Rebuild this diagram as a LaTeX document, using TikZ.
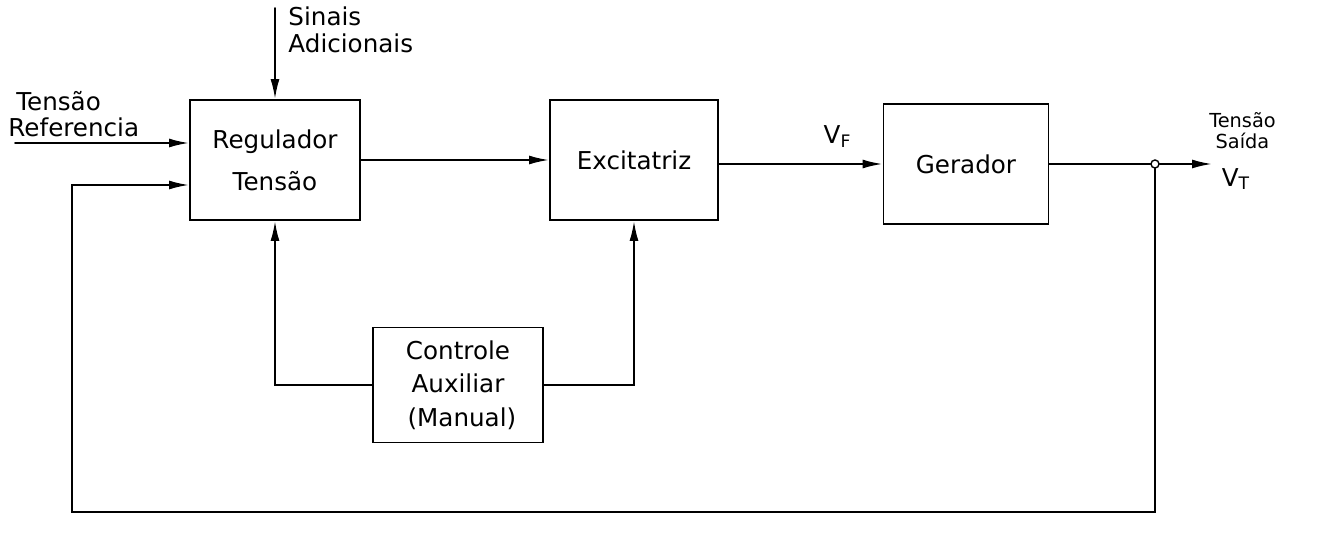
\documentclass[tikz,border=0pt]{standalone}
\usepackage{fontspec}
\setmainfont{DejaVu Sans}
\usetikzlibrary{arrows.meta}

\begin{document}
\begin{tikzpicture}[>={Latex[length=4mm,width=1.8mm]},line width=1.1pt,line cap=round,
  font=\fontsize{14}{19}\selectfont,
  blk/.style={draw,minimum width=3.4cm,minimum height=2.4cm,align=center},
  lbl/.style={align=left,inner sep=0pt,font=\fontsize{14}{15}\selectfont}]
\useasboundingbox (0,0) rectangle (26.34,10.88);
% blocos
\node[blk] (reg) at (5.5,7.68) {Regulador\\[5pt]Tensão};
\node[blk,minimum width=3.36cm] (exc) at (12.68,7.68) {Excitatriz};
\node[blk,minimum width=3.3cm] (ger) at (19.32,7.6) {Gerador};
\node[blk,minimum height=2.3cm] (ctl) at (9.16,3.18) {Controle\\Auxiliar\\\ (Manual)};
% entradas
\coordinate (ref) at (0.3,8.02);
\coordinate (sin) at (5.5,10.72);
\node[lbl,anchor=south west] (tref) at (0.15,8.12) {\ Tensão\\Referencia};
\node[lbl,anchor=north west] (tsin) at (5.75,10.76) {Sinais\\Adicionais};
\draw[->] (ref) -- (reg.west |- ref);
\draw[->] (sin) -- (reg.north);
% caminho direto
\draw[->] (reg.east) -- (exc.west);
\draw[->] (exc.east |- ger.west) -- (ger.west);
\node (vf) at (16.75,8.15) {V\textsubscript{F}};
\node[circle,draw,inner sep=0pt,minimum size=0.16cm,line width=0.8pt] (jn) at (23.1,7.6) {};
\coordinate (out) at (24.24,7.6);
\draw (ger.east) -- (jn);
\draw[->] (jn) -- (out);
\node[lbl,align=center,anchor=south,font=\fontsize{11}{12}\selectfont] (tout) at (24.85,7.88) {Tensão\\Saída};
\node (vt) at (24.72,7.3) {V\textsubscript{T}};
% realimentacao
\coordinate (fb) at (1.44,0.64);
\draw[->] (jn) |- (fb) |- ([yshift=-0.5cm]reg.west);
% controle auxiliar
\draw[->] (ctl.west) -| (reg.south);
\draw[->] (ctl.east) -| (exc.south);
\end{tikzpicture}
\end{document}
